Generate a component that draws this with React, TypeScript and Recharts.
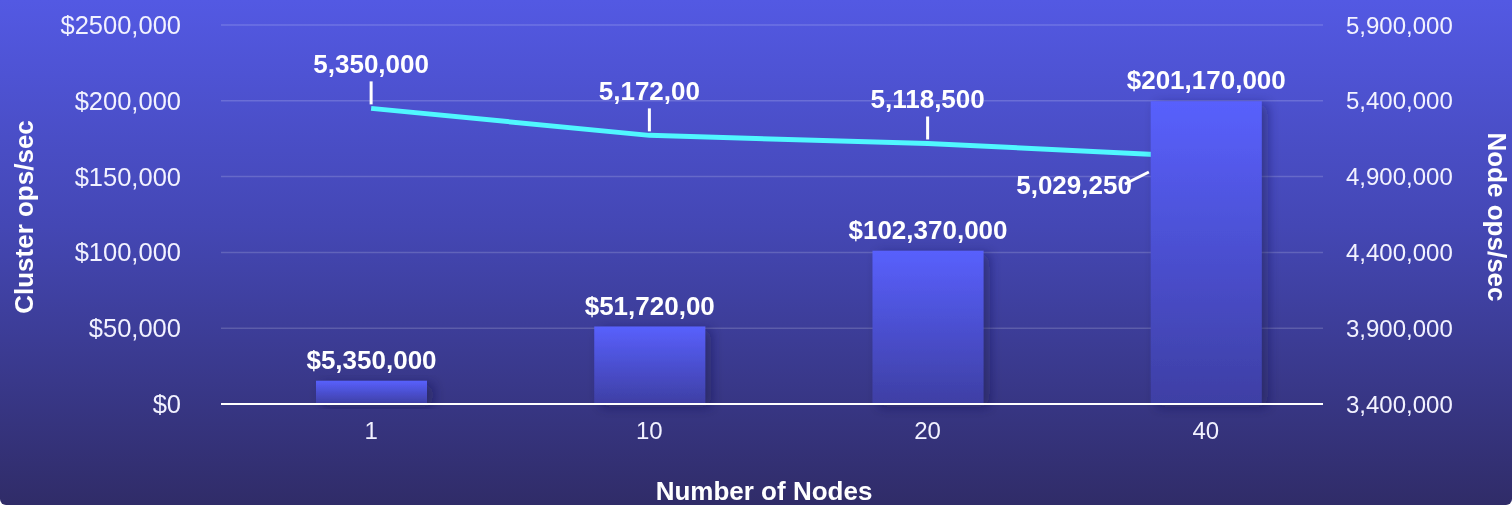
import React from 'react';
import { ComposedChart, Bar, Line, XAxis, YAxis, CartesianGrid, LabelList } from 'recharts';

const categories = ['1', '10', '20', '40'];
const clusterOps = [15400, 51100, 101100, 199700];
const clusterLabels = ['$5,350,000', '$51,720,00', '$102,370,000', '$201,170,000'];
const nodeOps = [5350000, 5172000, 5118500, 5029250];
const nodeLabels = ['5,350,000', '5,172,00', '5,118,500', '5,029,250'];
const leftTicks = [0, 50000, 100000, 150000, 200000, 250000];
const leftTickLabels = ['$0', '$50,000', '$100,000', '$150,000', '$200,000', '$2500,000'];
const rightTicks = [3400000, 3900000, 4400000, 4900000, 5400000, 5900000];

const data = categories.map((c, i) => ({ nodes: c, cluster: clusterOps[i], node: nodeOps[i] }));

const FONT = '"Liberation Sans", Arial, sans-serif';

const BarLabel = (props: any) => {
    const { x, y, width, index } = props;
    return (
        <text x={x + width / 2} y={y - 12} textAnchor="middle" fill="#fff" fontSize={26} fontWeight="bold" fontFamily={FONT}>
            {clusterLabels[index]}
        </text>
    );
};

const LineLabel = (props: any) => {
    const { x, y, index } = props;
    if (index === nodeLabels.length - 1) {
        // leader runs in behind the last bar
        return (
            <g>
                <line x1={x - 81} y1={y + 27} x2={x - 57} y2={y + 15} stroke="#fff" strokeWidth={3} />
                <text x={x - 74} y={y + 37} textAnchor="end" fill="#fff" fontSize={26} fontWeight="bold" fontFamily={FONT}>
                    {nodeLabels[index]}
                </text>
            </g>
        );
    }
    return (
        <g>
            <line x1={x} y1={y - 27} x2={x} y2={y - 4} stroke="#fff" strokeWidth={3} />
            <text x={x} y={y - 35} textAnchor="middle" fill="#fff" fontSize={26} fontWeight="bold" fontFamily={FONT}>
                {nodeLabels[index]}
            </text>
        </g>
    );
};

const App = () => {
    return (
        <div
            style={{
                position: 'fixed',
                top: 0,
                left: 0,
                width: 1512,
                height: 505,
                background: 'linear-gradient(to bottom, #5359e3 0%, #4447b4 45%, #302c68 100%)',
                borderBottomLeftRadius: 6,
                borderBottomRightRadius: 6,
                fontFamily: FONT,
            }}
        >
            <ComposedChart width={1512} height={505} data={data} margin={{ top: 25, right: 0, bottom: 0, left: 0 }}>
                <defs>
                    <linearGradient id="barFill" x1="0" y1="0" x2="0" y2="1">
                        <stop offset="0%" stopColor="#5860fd" />
                        <stop offset="100%" stopColor="#3e3fa4" />
                    </linearGradient>
                    <filter id="barShadow" x="-50%" y="-20%" width="200%" height="140%">
                        <feDropShadow dx="6" dy="3" stdDeviation="6" floodColor="#1b1845" floodOpacity="0.45" />
                    </filter>
                </defs>
                <CartesianGrid vertical={false} yAxisId="left" stroke="rgba(255,255,255,0.17)" strokeWidth={1.5} />
                <XAxis
                    dataKey="nodes"
                    height={101}
                    padding={{ left: 11, right: -22 }}
                    axisLine={{ stroke: '#fff', strokeWidth: 2 }}
                    tickLine={false}
                    tickSize={0}
                    tickMargin={18}
                    tick={{ fill: '#f2f2ff', fontSize: 24, fontFamily: FONT }}
                    label={{
                        content: () => (
                            <text x={764} y={500} textAnchor="middle" fill="#fff" fontSize={26} fontWeight="bold" fontFamily={FONT}>
                                Number of Nodes
                            </text>
                        ),
                    }}
                />
                <YAxis
                    yAxisId="left"
                    width={221}
                    domain={[0, 250000]}
                    ticks={leftTicks}
                    interval={0}
                    axisLine={false}
                    tickLine={false}
                    tickSize={0}
                    tickMargin={40}
                    tickFormatter={(v: number) => leftTickLabels[leftTicks.indexOf(v)]}
                    tick={{ fill: '#f2f2ff', fontSize: 25.5, fontFamily: FONT }}
                    label={{
                        content: () => (
                            <text x={24} y={217} transform="rotate(-90 24 217)" textAnchor="middle" dominantBaseline="central" fill="#fff" fontSize={26} fontWeight="bold" fontFamily={FONT}>
                                Cluster ops/sec
                            </text>
                        ),
                    }}
                />
                <YAxis
                    yAxisId="right"
                    orientation="right"
                    width={189}
                    domain={[3400000, 5900000]}
                    ticks={rightTicks}
                    interval={0}
                    axisLine={false}
                    tickLine={false}
                    tickSize={0}
                    tickMargin={23}
                    tickFormatter={(v: number) => v.toLocaleString('en-US')}
                    tick={{ fill: '#f2f2ff', fontSize: 24, fontFamily: FONT, textAnchor: 'start' }}
                    label={{
                        content: () => (
                            <text x={1497} y={217} transform="rotate(90 1497 217)" textAnchor="middle" dominantBaseline="central" fill="#fff" fontSize={26} fontWeight="bold" fontFamily={FONT}>
                                Node ops/sec
                            </text>
                        ),
                    }}
                />
                <Line
                    yAxisId="right"
                    dataKey="node"
                    type="linear"
                    stroke="#50f7ff"
                    strokeWidth={5}
                    dot={false}
                    activeDot={false}
                    zIndex={250}
                    isAnimationActive={false}
                >
                    <LabelList dataKey="node" content={LineLabel} />
                </Line>
                <Bar
                    yAxisId="left"
                    dataKey="cluster"
                    barSize={111}
                    fill="url(#barFill)"
                    filter="url(#barShadow)"
                    zIndex={300}
                    isAnimationActive={false}
                >
                    <LabelList dataKey="cluster" content={BarLabel} />
                </Bar>
            </ComposedChart>
        </div>
    );
};

export default App;
